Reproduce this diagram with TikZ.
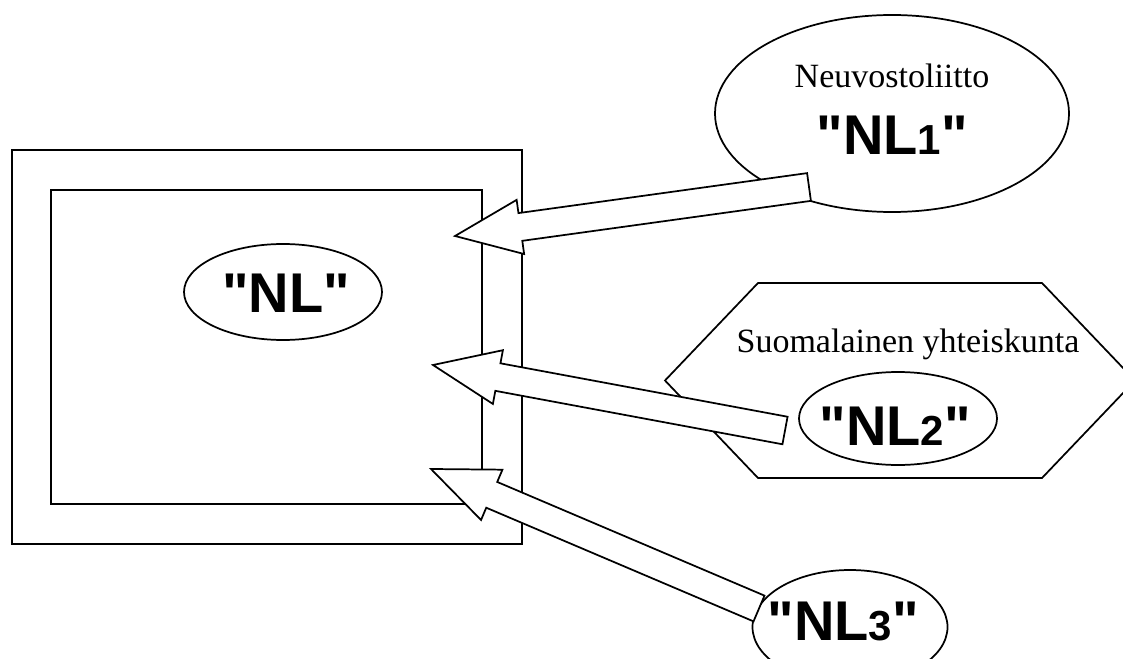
\documentclass[tikz,border=0pt]{standalone}
\usepackage{fontspec}
\setmainfont{Liberation Serif}
\newfontfamily\headfont{Liberation Sans}
\usetikzlibrary{shapes.geometric,calc}
\newcommand\straightq{\XeTeXglyph\XeTeXcharglyph"22\relax}
\newcommand\idx[1]{{\fontsize{31.5}{36}\selectfont#1}}
\tikzset{
  outl/.style={draw=black,line width=1.3pt},
  frame/.style={outl,rectangle,inner sep=0pt},
  bubble/.style={outl,ellipse,fill=white,inner sep=0pt},
  place/.style={font=\fontsize{25.5}{30}\selectfont,inner sep=0pt,anchor=base},
  tag/.style={font=\headfont\bfseries\fontsize{42}{48}\selectfont,inner sep=0pt,anchor=base},
  % hollow block arrow from tail to tip
  fat arrow/.style={outl,fill=white,line join=miter,
    to path={($(\tikztostart)!10.5pt!90:(\tikztotarget)$)
      -- ($(\tikztotarget)!49.5pt!(\tikztostart)!10.5pt!90:(\tikztotarget)$)
      -- ($(\tikztotarget)!49.5pt!(\tikztostart)!20.5pt!90:(\tikztotarget)$)
      -- (\tikztotarget)
      -- ($(\tikztotarget)!49.5pt!(\tikztostart)!20.5pt!-90:(\tikztotarget)$)
      -- ($(\tikztotarget)!49.5pt!(\tikztostart)!10.5pt!-90:(\tikztotarget)$)
      -- ($(\tikztostart)!10.5pt!-90:(\tikztotarget)$) -- cycle}},
}
\begin{document}
\begin{tikzpicture}[x=0.75pt,y=-0.75pt]
  \useasboundingbox (0,0) rectangle (1123,659);
  % frame with the national literature
  \node[frame,minimum width=382.5pt,minimum height=295.5pt] (outer) at (267,347) {};
  \node[frame,minimum width=323.25pt,minimum height=235.5pt] (inner) at (266.5,347) {};
  \node[bubble,minimum width=148.5pt,minimum height=72pt] (nl) at (283,292) {};
  \node[tag] (nltext) at (286,312) {\straightq NL\straightq};
  % sources
  \node[bubble,minimum width=265.5pt,minimum height=147.75pt] (nl1) at (892,113.5) {};
  \node[place] (soviet) at (892,88) {Neuvostoliitto};
  \node[tag] (nl1text) at (892,155) {\straightq NL\idx{1}\straightq};
  \draw[outl] (665,380.5) -- (758,283) -- (1042,283) -- (1135,380.5) -- (1042,478) -- (758,478) -- cycle;
  \node[place] (finnish) at (908,352) {Suomalainen yhteiskunta};
  \node[bubble,minimum width=148.5pt,minimum height=69.75pt] (nl2) at (898,418.5) {};
  \node[tag] (nl2text) at (895,445) {\straightq NL\idx{2}\straightq};
  \node[bubble,minimum width=146.25pt,minimum height=85.5pt] (nl3) at (850,627) {};
  \node[tag] (nl3text) at (843,640) {\straightq NL\idx{3}\straightq};
  % influences
  \coordinate (from1) at (809,187); \coordinate (to1) at (455,236);
  \coordinate (from2) at (785,430.5); \coordinate (to2) at (433,365);
  \coordinate (from3) at (759,608.5); \coordinate (to3) at (431,469);
  \draw[fat arrow] (from1) to (to1);
  \draw[fat arrow] (from2) to (to2);
  \draw[fat arrow] (from3) to (to3);
\end{tikzpicture}
\end{document}
